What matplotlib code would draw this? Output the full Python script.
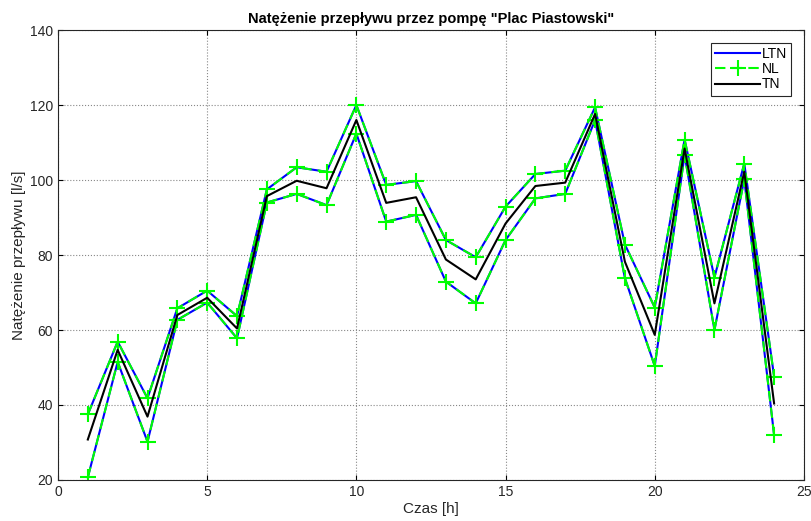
import numpy as np
import matplotlib.pyplot as plt

plt.rcParams['font.family'] = ['Liberation Sans', 'DejaVu Sans']

czas = np.arange(1, 25)
# gorna i dolna granica (LTN / NL) oraz srodek (TN)
gora = [37.5, 56.9, 41.8, 65.8, 70.5, 63.7, 97.5, 103.4, 102.2, 120.0, 98.7, 99.7,
        84.0, 79.4, 92.9, 101.6, 102.5, 119.4, 82.8, 66.0, 110.8, 74.0, 104.4, 47.6]
dol = [20.7, 51.5, 30.2, 62.7, 67.3, 57.8, 94.0, 96.3, 93.3, 112.4, 88.9, 90.7,
       72.9, 67.1, 84.0, 95.1, 96.3, 116.0, 73.8, 50.4, 106.7, 60.0, 100.2, 32.0]
tn = [30.8, 54.7, 36.9, 64.0, 68.6, 60.4, 95.7, 99.8, 97.8, 116.0, 93.9, 95.4,
      78.8, 73.5, 88.4, 98.4, 99.3, 117.6, 78.2, 58.7, 108.4, 67.1, 102.2, 40.4]

fig = plt.figure(figsize=(8.11, 5.21), dpi=100)
ax = fig.add_axes([0.0715, 0.0787, 0.9198, 0.8637])

l1, = ax.plot(czas, gora, color='blue', lw=1.5)
ax.plot(czas, dol, color='blue', lw=1.5)
l2, = ax.plot(czas, gora, color='#00ff00', lw=1.5, ls=(0, (5, 3)), marker='+', ms=11, mew=1.5)
ax.plot(czas, dol, color='#00ff00', lw=1.5, ls=(0, (5, 3)), marker='+', ms=11, mew=1.5)
l3, = ax.plot(czas, tn, color='black', lw=1.5)

ax.set_xlim(0, 25)
ax.set_ylim(20, 140)
ax.set_xticks([0, 5, 10, 15, 20, 25])
ax.set_yticks(range(20, 141, 20))
ax.grid(True, ls=':', color='#888888', lw=0.8)
ax.tick_params(direction='in', top=True, right=True, labelsize=10, labelcolor='#262626')
for s in ax.spines.values():
    s.set_linewidth(0.8)
    s.set_color('#262626')

ax.set_title('Natężenie przepływu przez pompę "Plac Piastowski"', fontsize=10.5, fontweight='bold', pad=5)
ax.set_xlabel('Czas [h]', fontsize=11, labelpad=2, color='#262626')
ax.set_ylabel('Natężenie przepływu [l/s]', fontsize=11, labelpad=3, color='#262626')

leg = ax.legend([l1, l2, l3], ['LTN', 'NL', 'TN'], loc='upper right', fancybox=False,
                edgecolor='#262626', framealpha=1, numpoints=1, fontsize=10,
                handlelength=3.2, handletextpad=0.15, borderpad=0.3, labelspacing=0.1,
                borderaxespad=0.9)
leg.get_frame().set_linewidth(0.8)

fig.savefig('out.png', dpi=100)
